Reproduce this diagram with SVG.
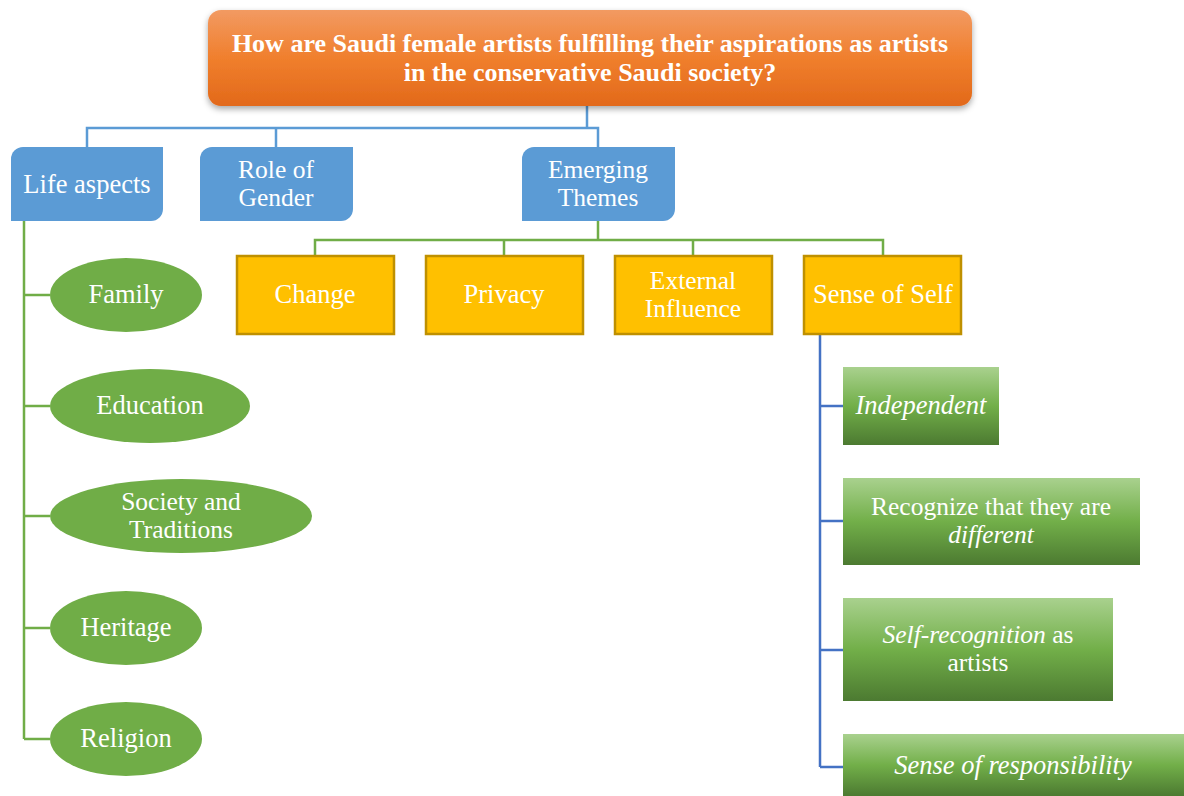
<svg xmlns="http://www.w3.org/2000/svg" width="1184" height="796" viewBox="0 0 1184 796">
<defs>
<linearGradient id="gOrange" x1="0" y1="0" x2="0" y2="1">
<stop offset="0" stop-color="#F29A62"/>
<stop offset="0.5" stop-color="#F07F2D"/>
<stop offset="1" stop-color="#E2691A"/>
</linearGradient>
<linearGradient id="gGreen" x1="0" y1="0" x2="0" y2="1">
<stop offset="0" stop-color="#A9D18E"/>
<stop offset="0.5" stop-color="#72AF49"/>
<stop offset="1" stop-color="#4C7A31"/>
</linearGradient>
<filter id="shadow" x="-5%" y="-10%" width="110%" height="130%">
<feDropShadow dx="0" dy="3" stdDeviation="3" flood-color="#000" flood-opacity="0.35"/>
</filter>
</defs>
<style>
text{fill:#fff;font-size:26.5px;text-anchor:middle;}
.title{font-weight:bold;font-size:26px;}
.two{font-size:25.5px;}
.blue{fill:#5B9BD5;}
.yel{fill:#FFC000;stroke:#BF9000;stroke-width:2.5;}
.ell{fill:#70AD47;}
.gbox{fill:url(#gGreen);}
.cb{fill:none;stroke:#5B9BD5;stroke-width:2.5;}
.cg{fill:none;stroke:#70AD47;stroke-width:2.5;}
.cd{fill:none;stroke:#4472C4;stroke-width:2.5;}
.it{font-style:italic;}
</style>
<g id="connectors">
<path class="cb" d="M587,106 V128 M87,147 V128 H598 V147 M276,128 V147"/>
<path class="cg" d="M598,221 V240 M315,256 V240 H883 V256 M504,240 V256 M693,240 V256"/>
<path class="cg" d="M24,221 V739 M24,295 H50 M24,406 H50 M24,516 H50 M24,628 H50 M24,739 H50"/>
<path class="cd" d="M820,334 V767 M820,406 H843 M820,521 H843 M820,650 H843 M820,767 H843"/>
</g>
<g font-family="'Liberation Serif', 'DejaVu Serif', serif">
<g id="root">
<rect x="208" y="10" width="764" height="96" rx="13" fill="url(#gOrange)" filter="url(#shadow)"/>
<text class="title" x="590" y="52">How are Saudi female artists fulfilling their aspirations as artists</text>
<text class="title" x="590" y="81">in the conservative Saudi society?</text>
</g>
<g id="life-aspects">
<path class="blue" d="M23,147 H163 V209 A12,12 0 0 1 151,221 H11 V159 A12,12 0 0 1 23,147 Z"/>
<text x="87" y="193">Life aspects</text>
</g>
<g id="role-of-gender">
<path class="blue" d="M212,147 H353 V209 A12,12 0 0 1 341,221 H200 V159 A12,12 0 0 1 212,147 Z"/>
<text class="two" x="276" y="178">Role of</text>
<text class="two" x="276" y="206">Gender</text>
</g>
<g id="emerging-themes">
<path class="blue" d="M534,147 H675 V209 A12,12 0 0 1 663,221 H522 V159 A12,12 0 0 1 534,147 Z"/>
<text class="two" x="598" y="178">Emerging</text>
<text class="two" x="598" y="206">Themes</text>
</g>
<g id="change">
<rect class="yel" x="237" y="256" width="157" height="78"/>
<text x="315" y="303">Change</text>
</g>
<g id="privacy">
<rect class="yel" x="426" y="256" width="157" height="78"/>
<text x="504" y="303">Privacy</text>
</g>
<g id="external-influence">
<rect class="yel" x="615" y="256" width="157" height="78"/>
<text class="two" x="693" y="289">External</text>
<text class="two" x="693" y="317">Influence</text>
</g>
<g id="sense-of-self">
<rect class="yel" x="804" y="256" width="157" height="78"/>
<text x="883" y="303">Sense of Self</text>
</g>
<g id="family">
<ellipse class="ell" cx="126" cy="295" rx="76" ry="37"/>
<text x="126" y="303">Family</text>
</g>
<g id="education">
<ellipse class="ell" cx="150" cy="406" rx="100" ry="37"/>
<text x="150" y="414">Education</text>
</g>
<g id="society-traditions">
<ellipse class="ell" cx="181" cy="516" rx="131" ry="37"/>
<text class="two" x="181" y="510">Society and</text>
<text class="two" x="181" y="538">Traditions</text>
</g>
<g id="heritage">
<ellipse class="ell" cx="126" cy="628" rx="76" ry="37"/>
<text x="126" y="636">Heritage</text>
</g>
<g id="religion">
<ellipse class="ell" cx="126" cy="739" rx="76" ry="37"/>
<text x="126" y="747">Religion</text>
</g>
<g id="independent">
<rect class="gbox" x="843" y="367" width="156" height="78"/>
<text class="it" x="921" y="414">Independent</text>
</g>
<g id="recognize-different">
<rect class="gbox" x="843" y="478" width="297" height="87"/>
<text class="two" x="991" y="515">Recognize that they are</text>
<text class="two it" x="991" y="543">different</text>
</g>
<g id="self-recognition">
<rect class="gbox" x="843" y="598" width="270" height="103"/>
<text class="two" x="978" y="643"><tspan class="it">Self-recognition</tspan> as</text>
<text class="two" x="978" y="671">artists</text>
</g>
<g id="sense-of-responsibility">
<rect class="gbox" x="843" y="734" width="341" height="62"/>
<text class="it" x="1013" y="774">Sense of responsibility</text>
</g>
</g>
</svg>
